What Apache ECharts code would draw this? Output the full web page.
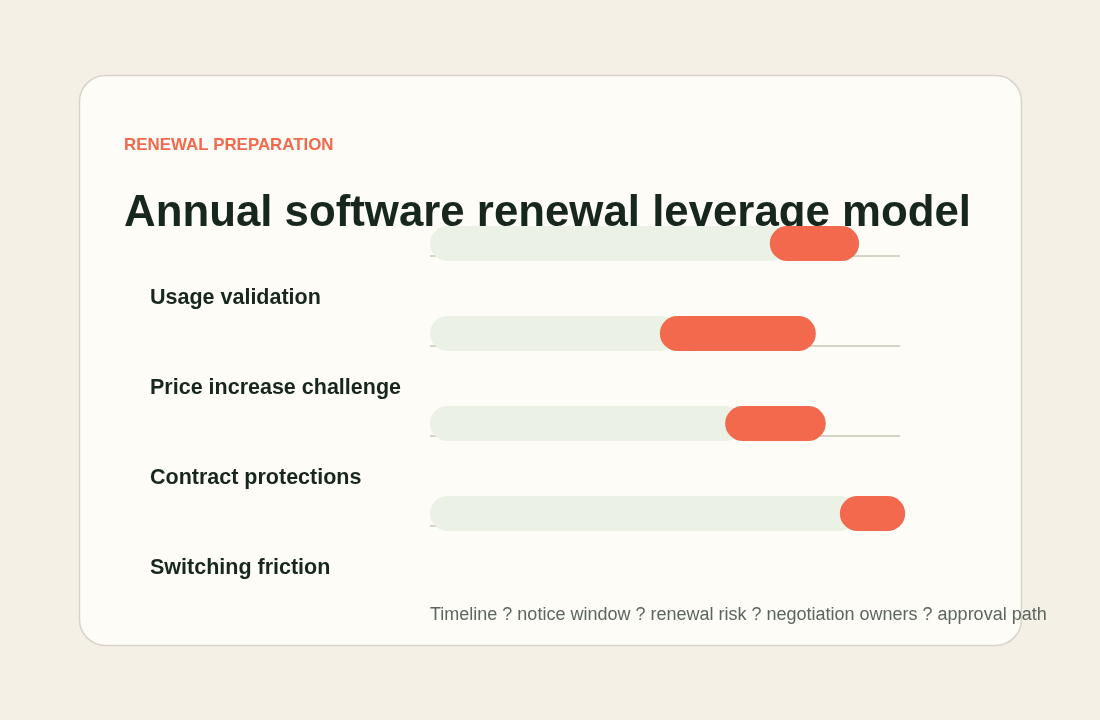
<!DOCTYPE html>
<html>
<head>
<meta charset="utf-8">
<title>Annual software renewal leverage model</title>
<script src="https://cdn.jsdelivr.net/npm/echarts@6/dist/echarts.min.js"></script>
<style>
  html, body { margin: 0; padding: 0; background: #f4f0e6; }
  #chart { width: 1100px; height: 720px; }
</style>
</head>
<body>
<div id="chart"></div>
<script>
// row data (share of the renewal timeline, 0-100)
const categories = ['Usage validation', 'Price increase challenge', 'Contract protections', 'Switching friction']
const riskStart = [72.3, 48.9, 62.8, 87.2]
const riskEnd = [91.3, 82.1, 84.2, 101.1]
const timelineMax = 100

const footerText = 'Timeline ? notice window ? renewal risk ? negotiation owners ? approval path'

const barHeight = 35

const chart = echarts.init(document.getElementById('chart'))

chart.setOption({
  backgroundColor: '#f4f0e6',
  animation: false,
  graphic: [{
    type: 'rect',
    z: -10,
    shape: { x: 79.5, y: 75.5, width: 942, height: 570, r: 26 },
    style: { fill: '#fdfcf7', stroke: '#d7d4c9', lineWidth: 1.5 }
  }],
  title: [{
    text: 'RENEWAL PREPARATION',
    left: 124,
    top: 137,
    padding: 0,
    textStyle: {
      color: '#f2694e',
      fontSize: 16.9,
      fontWeight: 'bold',
      fontFamily: 'Liberation Sans, Arial, sans-serif'
    }
  }, {
    // the bars sit on top of the heading's lower edge
    text: 'Annual software renewal leverage model',
    left: 124,
    top: 192,
    padding: 0,
    z: 0,
    textStyle: {
      color: '#18271e',
      fontSize: 43.8,
      fontWeight: 'bold',
      fontFamily: 'Liberation Sans, Arial, sans-serif'
    }
  }, {
    text: footerText,
    left: 430,
    top: 606,
    padding: 0,
    textStyle: {
      color: '#5c665e',
      fontSize: 18,
      fontWeight: 'normal',
      fontFamily: 'Liberation Sans, Arial, sans-serif'
    }
  }],
  grid: {
    left: 430,
    right: 200,
    top: 253,
    height: 360
  },
  xAxis: {
    type: 'value',
    min: 0,
    max: timelineMax,
    show: false
  },
  yAxis: {
    type: 'category',
    inverse: true,
    data: categories,
    axisLine: { show: false },
    axisTick: { show: false },
    splitLine: { show: false },
    axisLabel: {
      align: 'left',
      margin: 280,
      color: '#18271e',
      fontSize: 21.5,
      fontWeight: 'bold',
      fontFamily: 'Liberation Sans, Arial, sans-serif'
    }
  },
  series: [{
    type: 'custom',
    z: 5,
    encode: { x: [0, 1], y: 2 },
    data: categories.map((c, i) => [riskStart[i], riskEnd[i], i]),
    renderItem: function(params, api) {
      const idx = api.value(2)
      const base = api.coord([0, idx])
      const start = api.coord([api.value(0), idx])
      const end = api.coord([api.value(1), idx])
      const full = api.coord([timelineMax, idx])
      const top = base[1] - 72
      return {
        type: 'group',
        children: [{
          type: 'rect',
          shape: { x: base[0], y: base[1] - 43, width: full[0] - base[0], height: 2 },
          style: { fill: '#d5d3c6' }
        }, {
          type: 'rect',
          shape: { x: base[0], y: top, width: start[0] - base[0] + barHeight / 2, height: barHeight, r: barHeight / 2 },
          style: { fill: '#ecf1e6' }
        }, {
          type: 'rect',
          shape: { x: start[0], y: top, width: end[0] - start[0], height: barHeight, r: barHeight / 2 },
          style: { fill: '#f2694e' }
        }]
      }
    }
  }]
})
</script>
</body>
</html>
